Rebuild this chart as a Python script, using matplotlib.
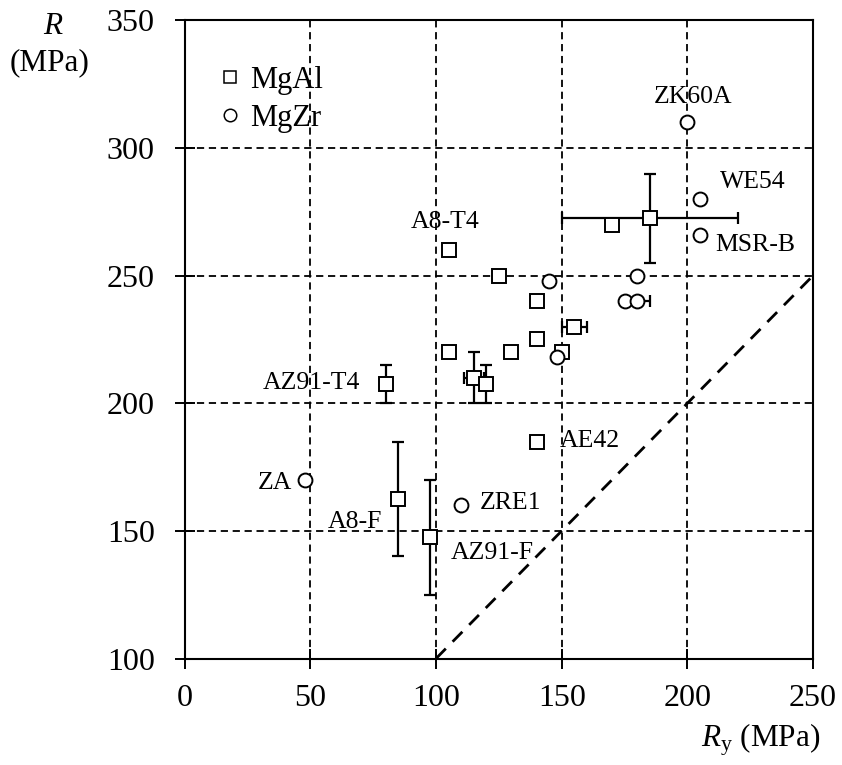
import matplotlib
matplotlib.use("Agg")
import matplotlib.pyplot as plt
from matplotlib.lines import Line2D

plt.rcParams["font.family"] = ["Liberation Serif", "DejaVu Serif"]
plt.rcParams["mathtext.fontset"] = "custom"
plt.rcParams["mathtext.rm"] = "Liberation Serif"
plt.rcParams["mathtext.it"] = "Liberation Serif:italic"

# MgAl alloys (squares)
mgal_ry = [105, 125, 140, 140, 155, 170, 185, 105, 130, 150, 115, 120, 80, 140, 85, 97.5]
mgal_r = [260, 250, 240, 225, 230, 270, 272.5, 220, 220, 220, 210, 207.5, 207.5, 185, 162.5, 147.5]
mgal_xerr = [0, 0, 0, 0, 5, 0, 35, 0, 0, 0, 4, 0, 0, 0, 0, 0]
mgal_yerr = [0, 0, 0, 0, 0, 0, 17.5, 0, 0, 0, 10, 7.5, 7.5, 0, 22.5, 22.5]

# MgZr alloys (circles)
mgzr_ry = [200, 205, 205, 145, 180, 175, 180, 148, 48, 110]
mgzr_r = [310, 280, 266, 248, 250, 240, 240, 218, 170, 160]
mgzr_xerr = [0, 0, 0, 0, 0, 0, 5, 0, 0, 0]

# R = Ry reference line
ref_x = [100, 250]
ref_y = [100, 250]

labels = ["A8-T4", "ZK60A", "WE54", "MSR-B", "AZ91-T4", "AE42", "ZA", "A8-F", "ZRE1", "AZ91-F"]
label_x = [103.6, 202.3, 226.1, 226.9, 50.5, 149.4, 36, 67.7, 117.2, 122.2]
label_y = [271.0, 320, 286.6, 261.9, 207.8, 185.2, 168.6, 153.6, 160.8, 141.4]
label_ha = ["center", "center", "center", "center", "center", "left", "center", "center", "left", "center"]

x_ticks = [0, 50, 100, 150, 200, 250]
y_ticks = [100, 150, 200, 250, 300, 350]

fig = plt.figure(figsize=(8.42, 7.65), dpi=100)
ax = fig.add_axes([0.2194, 0.1392, 0.7462, 0.8342])

grid_style = dict(color="black", linewidth=1.3, linestyle=(0, (4, 2.6)), zorder=1)
for gx in x_ticks[1:]:
    ax.axvline(gx, **grid_style)
for gy in y_ticks[1:-1]:
    ax.axhline(gy, **grid_style)

ax.plot(ref_x, ref_y, color="black", linewidth=2.0, linestyle=(0, (5, 3.5)), zorder=2)

err_style = dict(fmt="none", ecolor="black", elinewidth=1.6, capsize=4.5, capthick=1.6, zorder=3)
ax.errorbar(mgal_ry, mgal_r, xerr=mgal_xerr, yerr=mgal_yerr, **err_style)
ax.errorbar(mgzr_ry, mgzr_r, xerr=mgzr_xerr, **err_style)

ax.plot(mgal_ry, mgal_r, linestyle="none", marker="s", markersize=10,
        markerfacecolor="white", markeredgecolor="black", markeredgewidth=1.4, zorder=4)
ax.plot(mgzr_ry, mgzr_r, linestyle="none", marker="o", markersize=10,
        markerfacecolor="white", markeredgecolor="black", markeredgewidth=1.4, zorder=4)

for txt, tx, ty, ha in zip(labels, label_x, label_y, label_ha):
    ax.text(tx, ty, txt, ha=ha, va="center", fontsize=18.5, zorder=5)

ax.set_xlim(0, 250)
ax.set_ylim(100, 350)
ax.set_xticks(x_ticks)
ax.set_yticks(y_ticks)
ax.tick_params(direction="inout", length=14, width=1.4, labelsize=23)
ax.tick_params(axis="y", pad=14.5)
ax.tick_params(axis="x", pad=11.5)
for sp in ax.spines.values():
    sp.set_linewidth(1.5)

handles = [
    Line2D([], [], linestyle="none", marker="s", markersize=9, markerfacecolor="white",
           markeredgecolor="black", markeredgewidth=1.1, label="MgAl"),
    Line2D([], [], linestyle="none", marker="o", markersize=9, markerfacecolor="white",
           markeredgecolor="black", markeredgewidth=1.1, label="MgZr"),
]
ax.legend(handles=handles, loc="upper left", bbox_to_anchor=(0.0555, 0.929), frameon=False,
          fontsize=22, handlelength=0.7, handletextpad=0.3, labelspacing=0.3,
          borderpad=0, borderaxespad=0)

fig.text(53 / 842, 1 - 27 / 765, "$R$", ha="center", va="center", fontsize=22.5)
fig.text(50 / 842, 1 - 63 / 765, "(MPa)", ha="center", va="center", fontsize=22.5)
fig.text(820 / 842, 1 - 740 / 765, "$R_\\mathrm{y}$ (MPa)", ha="right", va="center", fontsize=22.5)

fig.savefig("out.png", dpi=100)
